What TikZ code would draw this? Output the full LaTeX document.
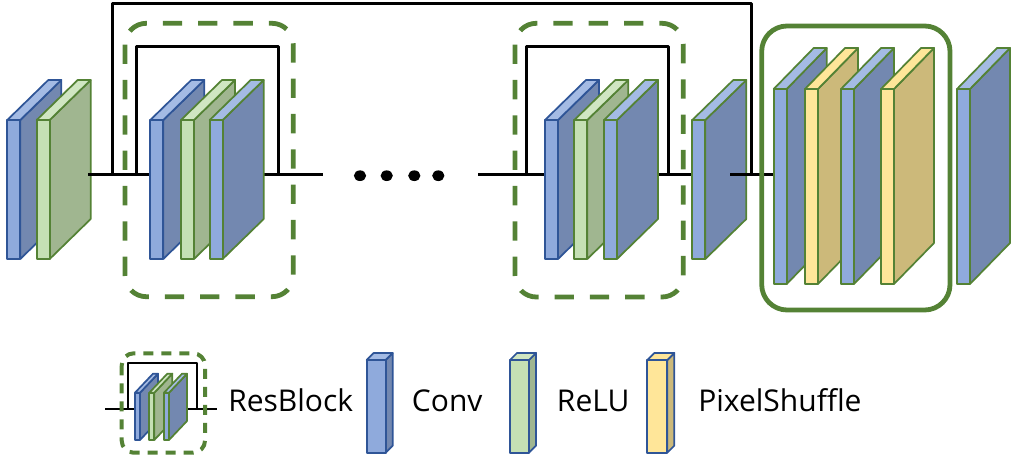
\documentclass[tikz,border=0pt]{standalone}
\usepackage{fontspec}
\setmainfont{Open Sans}

\definecolor{convfront}{HTML}{8FAADC}
\definecolor{convtop}{HTML}{A4BBE4}
\definecolor{convside}{HTML}{7388B0}
\definecolor{relufront}{HTML}{C5E0B4}
\definecolor{relutop}{HTML}{D0E6C2}
\definecolor{reluside}{HTML}{A0B690}
\definecolor{shuffront}{HTML}{FFE699}
\definecolor{shuftop}{HTML}{FFE699}
\definecolor{shufside}{HTML}{CCB97A}
\definecolor{edgeblue}{HTML}{2F5597}
\definecolor{edgegreen}{HTML}{548235}

% A layer drawn as a thin slab: side face, top face, front face.
% #1,#2 front top-left corner; #3 width; #4 height; #5,#6 depth (right, up);
% #7 layer kind; #8 outline colour
\newcommand{\slab}[8]{%
  \draw[#7 side, draw=#8] (#1+#3,#2) -- ++(#5,-#6) -- ++(0,#4) -- ++(-#5,#6) -- cycle;
  \draw[#7 top, draw=#8] (#1,#2) -- ++(#5,-#6) -- ++(#3,0) -- ++(-#5,#6) -- cycle;
  \draw[#7 front, draw=#8] (#1,#2) rectangle ++(#3,#4);
}

\begin{document}
\begin{tikzpicture}[x=0.75pt,y=-0.75pt,line join=round,
  face/.style={line width=1.3pt},
  conv front/.style={face,fill=convfront},
  conv top/.style={face,fill=convtop},
  conv side/.style={face,fill=convside},
  relu front/.style={face,fill=relufront},
  relu top/.style={face,fill=relutop},
  relu side/.style={face,fill=reluside},
  shuf front/.style={face,fill=shuffront},
  shuf top/.style={face,fill=shuftop},
  shuf side/.style={face,fill=shufside},
  wire/.style={draw=black,line width=1.9pt},
  smallwire/.style={draw=black,line width=1.5pt},
  resbox/.style={draw=edgegreen,line width=3.6pt,rounded corners=16pt,
    dash pattern=on 14.5pt off 12pt},
  smallresbox/.style={draw=edgegreen,line width=3pt,rounded corners=9pt,
    dash pattern=on 7.5pt off 6pt},
  upbox/.style={draw=edgegreen,line width=3.6pt,rounded corners=19pt},
  label/.style={anchor=base west,inner sep=0pt,font=\fontsize{22.5}{27}\selectfont},
  dot/.style={fill=black}]

\useasboundingbox (0,0) rectangle (1012,460);

% ---------- head: conv + relu ----------
\slab{7.3}{120}{13}{139}{41}{40}{conv}{edgeblue}
\slab{36.7}{120}{13}{139}{41}{40}{relu}{edgegreen}

% ---------- wires of the first residual block ----------
\coordinate (h0) at (88,174.3);
\coordinate (h1) at (322.7,174.3);
\draw[wire] (h0) -- (h1);
\coordinate (g0) at (112.7,174.3);
\coordinate (g1) at (751.7,174.3);
\draw[wire] (g0) -- ++(0,-171) -| (g1);
\coordinate (r0) at (136.7,174.3);
\coordinate (r1) at (278.3,174.3);
\draw[wire] (r0) -- ++(0,-127.6) -| (r1);

% ---------- first residual block ----------
\slab{150.3}{120}{13}{139}{41}{40}{conv}{edgeblue}
\slab{181}{120}{13}{139}{41}{40}{relu}{edgegreen}
\slab{209.7}{120}{13}{139}{41}{40}{conv}{edgegreen}
\draw[resbox] (125,23.3) rectangle (293.3,296.7);

% ---------- ellipsis ----------
\foreach \xd in {360,386.7,414.3,438.3}
  \fill[dot] (\xd,175.7) ellipse [x radius=4.6pt, y radius=4pt];

% ---------- last residual block ----------
\coordinate (k0) at (478.3,174.3);
\coordinate (k1) at (692.3,174.3);
\draw[wire] (k0) -- (k1);
\coordinate (q0) at (526.7,174.3);
\coordinate (q1) at (668.3,174.3);
\draw[wire] (q0) -- ++(0,-127.6) -| (q1);
\slab{545}{120}{13}{139}{41}{40}{conv}{edgeblue}
\slab{574.3}{120}{13}{139}{41}{40}{relu}{edgegreen}
\slab{604}{120}{13}{139}{41}{40}{conv}{edgegreen}
\draw[resbox] (515,23.3) rectangle (683.3,297);

% ---------- conv after the blocks ----------
\slab{692.3}{120}{13}{139}{41}{40}{conv}{edgegreen}
\coordinate (t0) at (730,174.3);
\coordinate (t1) at (773.7,174.3);
\draw[wire] (t0) -- (t1);

% ---------- upsampling ----------
\slab{773.7}{89}{13}{195}{40}{41}{conv}{edgegreen}
\slab{805}{89}{13}{195}{40}{41}{shuf}{edgegreen}
\slab{841}{89}{13}{195}{40}{41}{conv}{edgegreen}
\slab{881}{89}{13}{195}{40}{41}{shuf}{edgegreen}
\draw[upbox] (761.7,26) rectangle (950,310);

% ---------- output conv ----------
\slab{957}{89}{13}{195}{40}{41}{conv}{edgegreen}

% ---------- legend ----------
\coordinate (l0) at (105,409);
\coordinate (l1) at (216.7,409);
\draw[smallwire] (l0) -- (l1);
\coordinate (m0) at (127.7,409);
\coordinate (m1) at (196.7,409);
\draw[smallwire] (m0) -- ++(0,-46.3) -| (m1);
\slab{135}{392.7}{5}{47.3}{18}{19}{conv}{edgeblue}
\slab{149.3}{392.7}{5}{47.3}{18}{19}{relu}{edgegreen}
\slab{164}{392.7}{5}{47.3}{18}{19}{conv}{edgegreen}
\draw[smallresbox] (121.7,353.3) rectangle (205,452.7);
\node[label] (tres) at (228,411.7) {ResBlock};

\slab{366.7}{360}{19}{92.7}{7}{7}{conv}{edgeblue}
\node[label] (tconv) at (411.7,411.7) {Conv};

\slab{510}{360}{19}{92.7}{7}{7}{relu}{edgeblue}
\node[label] (trelu) at (556.7,411.7) {ReLU};

\slab{647.3}{360}{20}{92.7}{7}{7}{shuf}{edgeblue}
\node[label] (tshuf) at (698,411.7) {PixelShuffle};

\end{tikzpicture}
\end{document}
